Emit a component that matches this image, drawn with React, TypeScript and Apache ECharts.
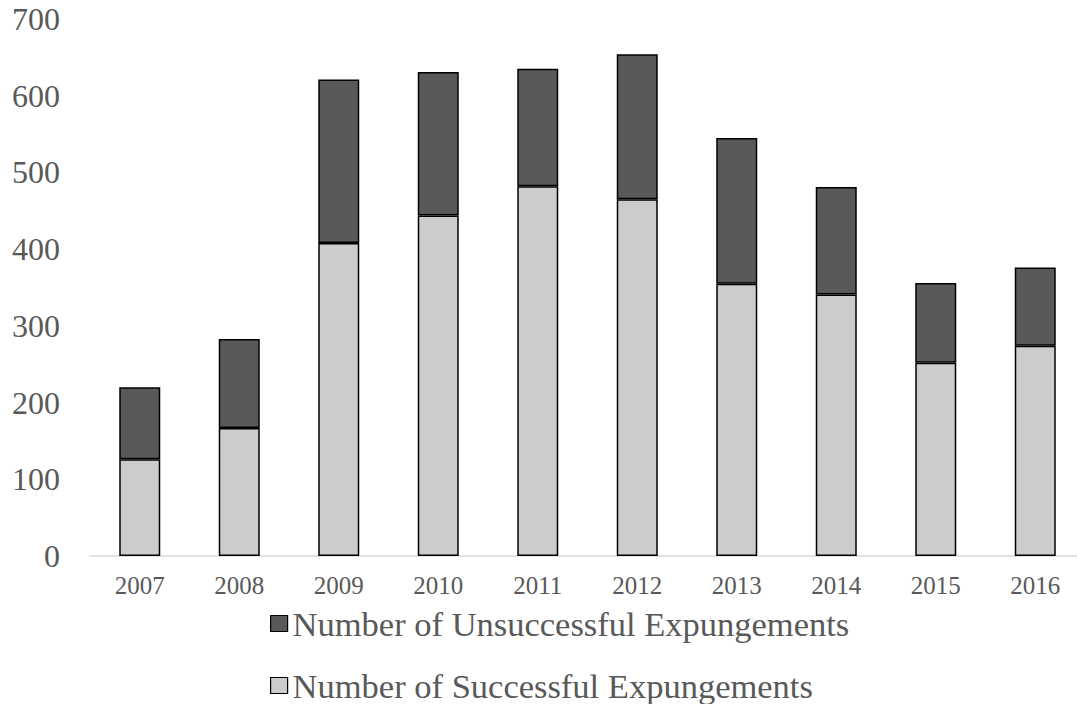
import React, { useEffect, useRef } from "react";
import * as echarts from "echarts";

// Yearly expungement counts, split into successful and unsuccessful attempts
const years = ["2007", "2008", "2009", "2010", "2011", "2012", "2013", "2014", "2015", "2016"];
const successful = [126, 167, 408, 444, 482, 465, 355, 341, 252, 274];
const unsuccessful = [94, 116, 213, 187, 153, 189, 190, 140, 104, 102];

const SUCCESS_NAME = "Number of Successful Expungements";
const FAIL_NAME = "Number of Unsuccessful Expungements";

const FONT = "'Liberation Serif', 'Times New Roman', serif";

export default function App() {
  const ref = useRef<HTMLDivElement>(null);

  useEffect(() => {
    if (!ref.current) return;
    const chart = echarts.init(ref.current, undefined, { renderer: "svg" });
    const barBorder = { borderColor: "#000000", borderWidth: 1.5 };
    const legendBase = {
      orient: "horizontal",
      left: 270,
      padding: 0,
      itemWidth: 17,
      itemHeight: 16,
      itemGap: 0,
      icon: "rect",
      itemStyle: { borderColor: "#000000", borderWidth: 1.2 },
      textStyle: { color: "#595959", fontFamily: FONT, fontSize: 34.5, lineHeight: 34 },
    };
    chart.setOption({
      animation: false,
      backgroundColor: "#ffffff",
      // the plot runs slightly past the visible right edge, so the canvas is wider than the frame
      grid: { left: 90, width: 995, top: 19, bottom: 148, containLabel: false },
      xAxis: {
        type: "category",
        data: years,
        axisLine: { show: true, lineStyle: { color: "#d9d9d9", width: 1.5 } },
        axisTick: { show: false },
        axisLabel: { color: "#595959", fontFamily: FONT, fontSize: 25, margin: 17 },
      },
      yAxis: {
        type: "value",
        min: 0,
        max: 700,
        interval: 100,
        axisLine: { show: false },
        axisTick: { show: false },
        splitLine: { show: false },
        axisLabel: { color: "#595959", fontFamily: FONT, fontSize: 32, margin: 30 },
      },
      legend: [
        { ...legendBase, top: 606, data: [FAIL_NAME] },
        { ...legendBase, top: 668, data: [SUCCESS_NAME] },
      ],
      series: [
        {
          name: SUCCESS_NAME,
          type: "bar",
          stack: "total",
          data: successful,
          barWidth: 41,
          itemStyle: { color: "#cccccc", ...barBorder },
        },
        {
          name: FAIL_NAME,
          type: "bar",
          stack: "total",
          data: unsuccessful,
          barWidth: 41,
          itemStyle: { color: "#595959", ...barBorder },
        },
      ],
    });
    return () => chart.dispose();
  }, []);

  return (
    <div
      style={{
        position: "fixed",
        left: 0,
        top: 0,
        width: 1077,
        height: 704,
        overflow: "hidden",
        background: "#fff",
      }}
    >
      <div ref={ref} style={{ width: 1100, height: 704 }} />
    </div>
  );
}
